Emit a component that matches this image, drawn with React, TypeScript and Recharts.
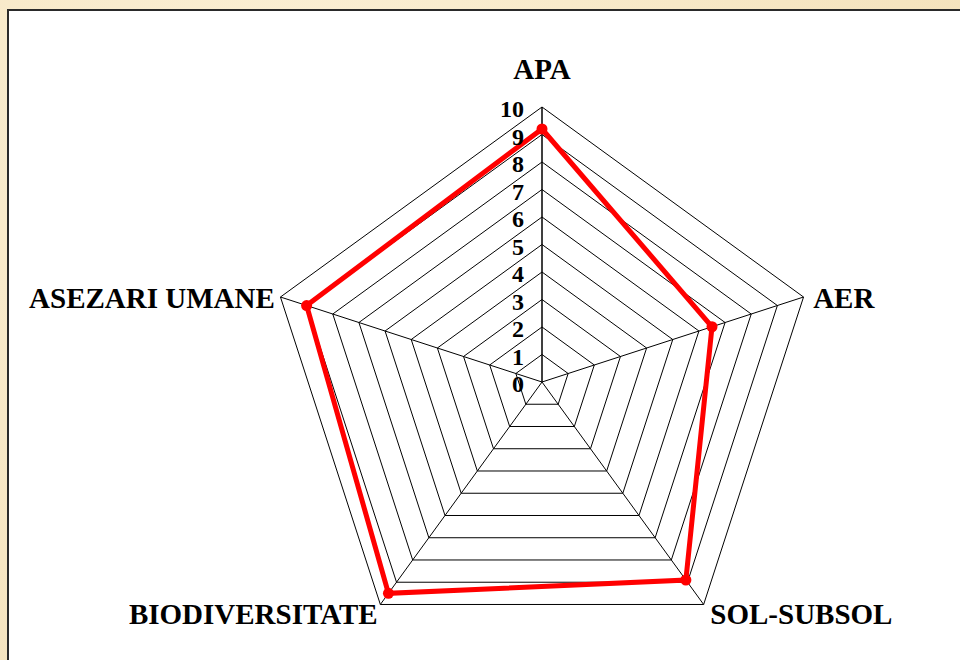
import { RadarChart, Radar, PolarGrid, PolarAngleAxis, PolarRadiusAxis } from 'recharts';

// categories (clockwise from top) and the single series
const categories = ['APA', 'AER', 'SOL-SUBSOL', 'BIODIVERSITATE', 'ASEZARI UMANE'];
const scores = [9.2, 6.5, 8.9, 9.5, 9.0];
const radiusTicks = [0, 1, 2, 3, 4, 5, 6, 7, 8, 9, 10];

const data = categories.map((name, i) => ({ name, value: scores[i] }));

const FONT = '"Liberation Serif", "Times New Roman", serif';

function AngleTick(props: any) {
  const { x, y, textAnchor, payload } = props;
  // top label sits higher above the vertex
  const dy = textAnchor === 'middle' ? -30 : 3;
  const dx = textAnchor === 'start' ? 2 : textAnchor === 'end' ? 2 : 0;
  return (
    <text
      x={x + dx}
      y={y + dy}
      textAnchor={textAnchor}
      dominantBaseline="central"
      fontFamily={FONT}
      fontWeight="bold"
      fontSize={29}
      fill="#000"
    >
      {payload.value}
    </text>
  );
}

function RadiusTick(props: any) {
  const { x, y, payload } = props;
  return (
    <text
      x={x - 18}
      y={y + 2}
      textAnchor="end"
      dominantBaseline="central"
      fontFamily={FONT}
      fontWeight="bold"
      fontSize={24}
      fill="#000"
    >
      {payload.value}
    </text>
  );
}

function Dot(props: any) {
  const { cx, cy, index } = props;
  return <circle key={index} cx={cx} cy={cy} r={5.5} fill="#ff0000" stroke="none" />;
}

export default function App() {
  return (
    <div
      style={{
        position: 'absolute',
        left: 0,
        top: 0,
        width: 960,
        height: 660,
        overflow: 'hidden',
        background: 'radial-gradient(circle at 30% 20%, #fbf0d6 0%, #f6e6c3 60%, #f3e0b8 100%)',
      }}
    >
      <div
        style={{
          position: 'absolute',
          left: 7,
          top: 9,
          width: 960,
          height: 660,
          background: '#fff',
          borderLeft: '2px solid #2a2a2a',
          borderTop: '2px solid #2a2a2a',
        }}
      />
      <div style={{ position: 'absolute', left: 0, top: 0 }}>
        <RadarChart
          width={960}
          height={660}
          data={data}
          cx={542}
          cy={382}
          outerRadius={275}
          startAngle={90}
          endAngle={-270}
        >
          <PolarGrid gridType="polygon" stroke="#000" strokeWidth={1} />
          <PolarAngleAxis
            dataKey="name"
            tick={<AngleTick />}
            axisLine={false}
            tickLine={false}
          />
          <PolarRadiusAxis
            angle={90}
            domain={[0, 10]}
            ticks={radiusTicks as any}
            tickCount={11}
            tick={<RadiusTick />}
            axisLine={{ stroke: '#000' }}
            tickLine={false}
          />
          <Radar
            dataKey="value"
            stroke="#ff0000"
            strokeWidth={5}
            fill="none"
            fillOpacity={0}
            dot={Dot}
            isAnimationActive={false}
          />
        </RadarChart>
      </div>
    </div>
  );
}
